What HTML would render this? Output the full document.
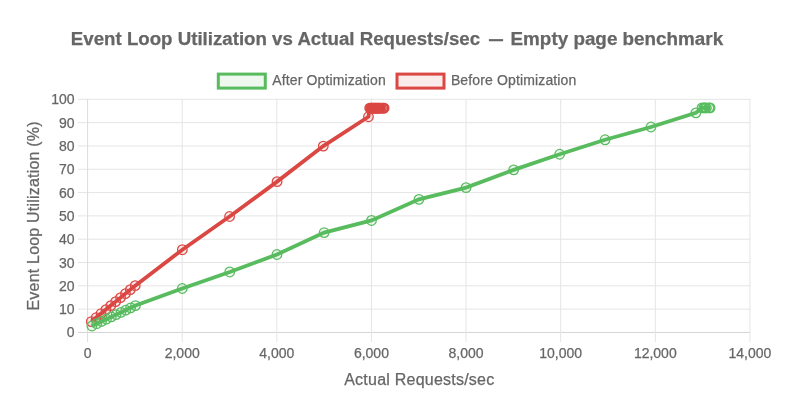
<!DOCTYPE html>
<html><head><meta charset="utf-8"><title>Event Loop Utilization vs Actual Requests/sec</title>
<style>html,body{margin:0;padding:0;background:#fff;width:800px;height:416px;overflow:hidden}svg{display:block;will-change:transform}</style>
</head><body>
<svg width="800" height="416" viewBox="0 0 800 416">
<rect width="800" height="416" fill="#fff"/>
<line x1="78" y1="332.45" x2="750.40" y2="332.45" stroke="#d4d4d4" stroke-width="1"/>
<line x1="78" y1="309.14" x2="750.40" y2="309.14" stroke="#e5e5e5" stroke-width="1"/>
<line x1="78" y1="285.83" x2="750.40" y2="285.83" stroke="#e5e5e5" stroke-width="1"/>
<line x1="78" y1="262.52" x2="750.40" y2="262.52" stroke="#e5e5e5" stroke-width="1"/>
<line x1="78" y1="239.21" x2="750.40" y2="239.21" stroke="#e5e5e5" stroke-width="1"/>
<line x1="78" y1="215.90" x2="750.40" y2="215.90" stroke="#e5e5e5" stroke-width="1"/>
<line x1="78" y1="192.59" x2="750.40" y2="192.59" stroke="#e5e5e5" stroke-width="1"/>
<line x1="78" y1="169.28" x2="750.40" y2="169.28" stroke="#e5e5e5" stroke-width="1"/>
<line x1="78" y1="145.97" x2="750.40" y2="145.97" stroke="#e5e5e5" stroke-width="1"/>
<line x1="78" y1="122.66" x2="750.40" y2="122.66" stroke="#e5e5e5" stroke-width="1"/>
<line x1="78" y1="99.35" x2="750.40" y2="99.35" stroke="#e5e5e5" stroke-width="1"/>
<line x1="87.60" y1="98.85" x2="87.60" y2="342" stroke="#dcdcdc" stroke-width="1"/>
<line x1="182.21" y1="98.85" x2="182.21" y2="342" stroke="#e5e5e5" stroke-width="1"/>
<line x1="276.83" y1="98.85" x2="276.83" y2="342" stroke="#e5e5e5" stroke-width="1"/>
<line x1="371.44" y1="98.85" x2="371.44" y2="342" stroke="#e5e5e5" stroke-width="1"/>
<line x1="466.06" y1="98.85" x2="466.06" y2="342" stroke="#e5e5e5" stroke-width="1"/>
<line x1="560.67" y1="98.85" x2="560.67" y2="342" stroke="#e5e5e5" stroke-width="1"/>
<line x1="655.29" y1="98.85" x2="655.29" y2="342" stroke="#e5e5e5" stroke-width="1"/>
<line x1="749.90" y1="98.85" x2="749.90" y2="342" stroke="#e5e5e5" stroke-width="1"/>
<polyline points="91.30,321.55 96.18,317.56 101.06,313.57 105.93,309.58 110.81,305.59 115.69,301.61 120.57,297.62 125.44,293.63 130.32,289.64 135.20,285.65 182.36,249.70 229.57,216.48 277.07,181.63 323.28,146.09 368.46,116.72 369.70,108.15 370.49,108.15 371.28,108.15 372.08,108.15 372.87,108.15 373.66,108.15 374.45,108.15 375.25,108.15 376.04,108.15 376.83,108.15 377.62,108.15 378.42,108.15 379.21,108.15 380.00,108.15 381.30,108.15 382.70,108.15 383.60,108.15 384.10,108.15" fill="none" stroke="#db4843" stroke-width="3.8" stroke-linejoin="miter"/>
<circle cx="91.30" cy="321.55" r="4.8" fill="rgba(219,72,67,0.1)" stroke="#db4843" stroke-width="1.25"/>
<circle cx="96.18" cy="317.56" r="4.8" fill="rgba(219,72,67,0.1)" stroke="#db4843" stroke-width="1.25"/>
<circle cx="101.06" cy="313.57" r="4.8" fill="rgba(219,72,67,0.1)" stroke="#db4843" stroke-width="1.25"/>
<circle cx="105.93" cy="309.58" r="4.8" fill="rgba(219,72,67,0.1)" stroke="#db4843" stroke-width="1.25"/>
<circle cx="110.81" cy="305.59" r="4.8" fill="rgba(219,72,67,0.1)" stroke="#db4843" stroke-width="1.25"/>
<circle cx="115.69" cy="301.61" r="4.8" fill="rgba(219,72,67,0.1)" stroke="#db4843" stroke-width="1.25"/>
<circle cx="120.57" cy="297.62" r="4.8" fill="rgba(219,72,67,0.1)" stroke="#db4843" stroke-width="1.25"/>
<circle cx="125.44" cy="293.63" r="4.8" fill="rgba(219,72,67,0.1)" stroke="#db4843" stroke-width="1.25"/>
<circle cx="130.32" cy="289.64" r="4.8" fill="rgba(219,72,67,0.1)" stroke="#db4843" stroke-width="1.25"/>
<circle cx="135.20" cy="285.65" r="4.8" fill="rgba(219,72,67,0.1)" stroke="#db4843" stroke-width="1.25"/>
<circle cx="182.36" cy="249.70" r="4.8" fill="rgba(219,72,67,0.1)" stroke="#db4843" stroke-width="1.25"/>
<circle cx="229.57" cy="216.48" r="4.8" fill="rgba(219,72,67,0.1)" stroke="#db4843" stroke-width="1.25"/>
<circle cx="277.07" cy="181.63" r="4.8" fill="rgba(219,72,67,0.1)" stroke="#db4843" stroke-width="1.25"/>
<circle cx="323.28" cy="146.09" r="4.8" fill="rgba(219,72,67,0.1)" stroke="#db4843" stroke-width="1.25"/>
<circle cx="368.46" cy="116.72" r="4.8" fill="rgba(219,72,67,0.1)" stroke="#db4843" stroke-width="1.25"/>
<circle cx="369.70" cy="108.15" r="4.8" fill="rgba(219,72,67,0.1)" stroke="#db4843" stroke-width="1.25"/>
<circle cx="370.49" cy="108.15" r="4.8" fill="rgba(219,72,67,0.1)" stroke="#db4843" stroke-width="1.25"/>
<circle cx="371.28" cy="108.15" r="4.8" fill="rgba(219,72,67,0.1)" stroke="#db4843" stroke-width="1.25"/>
<circle cx="372.08" cy="108.15" r="4.8" fill="rgba(219,72,67,0.1)" stroke="#db4843" stroke-width="1.25"/>
<circle cx="372.87" cy="108.15" r="4.8" fill="rgba(219,72,67,0.1)" stroke="#db4843" stroke-width="1.25"/>
<circle cx="373.66" cy="108.15" r="4.8" fill="rgba(219,72,67,0.1)" stroke="#db4843" stroke-width="1.25"/>
<circle cx="374.45" cy="108.15" r="4.8" fill="rgba(219,72,67,0.1)" stroke="#db4843" stroke-width="1.25"/>
<circle cx="375.25" cy="108.15" r="4.8" fill="rgba(219,72,67,0.1)" stroke="#db4843" stroke-width="1.25"/>
<circle cx="376.04" cy="108.15" r="4.8" fill="rgba(219,72,67,0.1)" stroke="#db4843" stroke-width="1.25"/>
<circle cx="376.83" cy="108.15" r="4.8" fill="rgba(219,72,67,0.1)" stroke="#db4843" stroke-width="1.25"/>
<circle cx="377.62" cy="108.15" r="4.8" fill="rgba(219,72,67,0.1)" stroke="#db4843" stroke-width="1.25"/>
<circle cx="378.42" cy="108.15" r="4.8" fill="rgba(219,72,67,0.1)" stroke="#db4843" stroke-width="1.25"/>
<circle cx="379.21" cy="108.15" r="4.8" fill="rgba(219,72,67,0.1)" stroke="#db4843" stroke-width="1.25"/>
<circle cx="380.00" cy="108.15" r="4.8" fill="rgba(219,72,67,0.1)" stroke="#db4843" stroke-width="1.25"/>
<circle cx="381.30" cy="108.15" r="4.8" fill="rgba(219,72,67,0.1)" stroke="#db4843" stroke-width="1.25"/>
<circle cx="382.70" cy="108.15" r="4.8" fill="rgba(219,72,67,0.1)" stroke="#db4843" stroke-width="1.25"/>
<circle cx="383.60" cy="108.15" r="4.8" fill="rgba(219,72,67,0.1)" stroke="#db4843" stroke-width="1.25"/>
<circle cx="384.10" cy="108.15" r="4.8" fill="rgba(219,72,67,0.1)" stroke="#db4843" stroke-width="1.25"/>
<polyline points="91.90,325.95 96.74,323.68 101.59,321.42 106.43,319.15 111.28,316.88 116.12,314.62 120.97,312.35 125.81,310.08 130.66,307.82 135.50,305.55 182.24,288.51 229.76,271.96 276.97,254.48 324.18,232.57 371.49,220.45 418.99,199.35 466.06,187.58 513.65,169.86 559.68,154.25 605.09,139.79 650.98,126.97 695.88,112.85 702.00,107.85 703.80,107.85 705.00,107.85 706.30,107.85 709.00,107.85 710.10,107.85" fill="none" stroke="#58bc5f" stroke-width="3.8" stroke-linejoin="miter"/>
<circle cx="91.90" cy="325.95" r="4.8" fill="rgba(88,188,95,0.1)" stroke="#58bc5f" stroke-width="1.25"/>
<circle cx="96.74" cy="323.68" r="4.8" fill="rgba(88,188,95,0.1)" stroke="#58bc5f" stroke-width="1.25"/>
<circle cx="101.59" cy="321.42" r="4.8" fill="rgba(88,188,95,0.1)" stroke="#58bc5f" stroke-width="1.25"/>
<circle cx="106.43" cy="319.15" r="4.8" fill="rgba(88,188,95,0.1)" stroke="#58bc5f" stroke-width="1.25"/>
<circle cx="111.28" cy="316.88" r="4.8" fill="rgba(88,188,95,0.1)" stroke="#58bc5f" stroke-width="1.25"/>
<circle cx="116.12" cy="314.62" r="4.8" fill="rgba(88,188,95,0.1)" stroke="#58bc5f" stroke-width="1.25"/>
<circle cx="120.97" cy="312.35" r="4.8" fill="rgba(88,188,95,0.1)" stroke="#58bc5f" stroke-width="1.25"/>
<circle cx="125.81" cy="310.08" r="4.8" fill="rgba(88,188,95,0.1)" stroke="#58bc5f" stroke-width="1.25"/>
<circle cx="130.66" cy="307.82" r="4.8" fill="rgba(88,188,95,0.1)" stroke="#58bc5f" stroke-width="1.25"/>
<circle cx="135.50" cy="305.55" r="4.8" fill="rgba(88,188,95,0.1)" stroke="#58bc5f" stroke-width="1.25"/>
<circle cx="182.24" cy="288.51" r="4.8" fill="rgba(88,188,95,0.1)" stroke="#58bc5f" stroke-width="1.25"/>
<circle cx="229.76" cy="271.96" r="4.8" fill="rgba(88,188,95,0.1)" stroke="#58bc5f" stroke-width="1.25"/>
<circle cx="276.97" cy="254.48" r="4.8" fill="rgba(88,188,95,0.1)" stroke="#58bc5f" stroke-width="1.25"/>
<circle cx="324.18" cy="232.57" r="4.8" fill="rgba(88,188,95,0.1)" stroke="#58bc5f" stroke-width="1.25"/>
<circle cx="371.49" cy="220.45" r="4.8" fill="rgba(88,188,95,0.1)" stroke="#58bc5f" stroke-width="1.25"/>
<circle cx="418.99" cy="199.35" r="4.8" fill="rgba(88,188,95,0.1)" stroke="#58bc5f" stroke-width="1.25"/>
<circle cx="466.06" cy="187.58" r="4.8" fill="rgba(88,188,95,0.1)" stroke="#58bc5f" stroke-width="1.25"/>
<circle cx="513.65" cy="169.86" r="4.8" fill="rgba(88,188,95,0.1)" stroke="#58bc5f" stroke-width="1.25"/>
<circle cx="559.68" cy="154.25" r="4.8" fill="rgba(88,188,95,0.1)" stroke="#58bc5f" stroke-width="1.25"/>
<circle cx="605.09" cy="139.79" r="4.8" fill="rgba(88,188,95,0.1)" stroke="#58bc5f" stroke-width="1.25"/>
<circle cx="650.98" cy="126.97" r="4.8" fill="rgba(88,188,95,0.1)" stroke="#58bc5f" stroke-width="1.25"/>
<circle cx="695.88" cy="112.85" r="4.8" fill="rgba(88,188,95,0.1)" stroke="#58bc5f" stroke-width="1.25"/>
<circle cx="702.00" cy="107.85" r="4.8" fill="rgba(88,188,95,0.1)" stroke="#58bc5f" stroke-width="1.25"/>
<circle cx="703.80" cy="107.85" r="4.8" fill="rgba(88,188,95,0.1)" stroke="#58bc5f" stroke-width="1.25"/>
<circle cx="705.00" cy="107.85" r="4.8" fill="rgba(88,188,95,0.1)" stroke="#58bc5f" stroke-width="1.25"/>
<circle cx="706.30" cy="107.85" r="4.8" fill="rgba(88,188,95,0.1)" stroke="#58bc5f" stroke-width="1.25"/>
<circle cx="709.00" cy="107.85" r="4.8" fill="rgba(88,188,95,0.1)" stroke="#58bc5f" stroke-width="1.25"/>
<circle cx="710.10" cy="107.85" r="4.8" fill="rgba(88,188,95,0.1)" stroke="#58bc5f" stroke-width="1.25"/>
<text y="44.7" font-family="'Liberation Sans', Arial, sans-serif" stroke="#666" stroke-width="0.25" font-size="18" font-weight="bold" fill="#666"><tspan x="70.86" textLength="409.2" lengthAdjust="spacingAndGlyphs">Event Loop Utilization vs Actual Requests/sec</tspan> <tspan x="489.1" y="45.3" textLength="14" lengthAdjust="spacingAndGlyphs">—</tspan> <tspan x="510.56" y="44.7" textLength="212.6" lengthAdjust="spacingAndGlyphs">Empty page benchmark</tspan></text>
<rect x="218.3" y="74.1" width="47" height="14" fill="rgba(88,188,95,0.1)" stroke="#58bc5f" stroke-width="3"/>
<text x="272.3" y="85.4" font-family="'Liberation Sans', Arial, sans-serif" stroke="#666" stroke-width="0.25" font-size="14" fill="#666" textLength="113.4" lengthAdjust="spacing">After Optimization</text>
<rect x="397" y="74.1" width="47" height="14" fill="rgba(219,72,67,0.1)" stroke="#db4843" stroke-width="3"/>
<text x="450.9" y="85.4" font-family="'Liberation Sans', Arial, sans-serif" stroke="#666" stroke-width="0.25" font-size="14" fill="#666" textLength="125.4" lengthAdjust="spacing">Before Optimization</text>
<text x="74.5" y="337.45" font-family="'Liberation Sans', Arial, sans-serif" stroke="#666" stroke-width="0.25" font-size="14" fill="#666" text-anchor="end">0</text>
<text x="74.5" y="314.14" font-family="'Liberation Sans', Arial, sans-serif" stroke="#666" stroke-width="0.25" font-size="14" fill="#666" text-anchor="end">10</text>
<text x="74.5" y="290.83" font-family="'Liberation Sans', Arial, sans-serif" stroke="#666" stroke-width="0.25" font-size="14" fill="#666" text-anchor="end">20</text>
<text x="74.5" y="267.52" font-family="'Liberation Sans', Arial, sans-serif" stroke="#666" stroke-width="0.25" font-size="14" fill="#666" text-anchor="end">30</text>
<text x="74.5" y="244.21" font-family="'Liberation Sans', Arial, sans-serif" stroke="#666" stroke-width="0.25" font-size="14" fill="#666" text-anchor="end">40</text>
<text x="74.5" y="220.90" font-family="'Liberation Sans', Arial, sans-serif" stroke="#666" stroke-width="0.25" font-size="14" fill="#666" text-anchor="end">50</text>
<text x="74.5" y="197.59" font-family="'Liberation Sans', Arial, sans-serif" stroke="#666" stroke-width="0.25" font-size="14" fill="#666" text-anchor="end">60</text>
<text x="74.5" y="174.28" font-family="'Liberation Sans', Arial, sans-serif" stroke="#666" stroke-width="0.25" font-size="14" fill="#666" text-anchor="end">70</text>
<text x="74.5" y="150.97" font-family="'Liberation Sans', Arial, sans-serif" stroke="#666" stroke-width="0.25" font-size="14" fill="#666" text-anchor="end">80</text>
<text x="74.5" y="127.66" font-family="'Liberation Sans', Arial, sans-serif" stroke="#666" stroke-width="0.25" font-size="14" fill="#666" text-anchor="end">90</text>
<text x="74.5" y="104.35" font-family="'Liberation Sans', Arial, sans-serif" stroke="#666" stroke-width="0.25" font-size="14" fill="#666" text-anchor="end">100</text>
<text x="87.60" y="358.3" font-family="'Liberation Sans', Arial, sans-serif" stroke="#666" stroke-width="0.25" font-size="14" fill="#666" text-anchor="middle">0</text>
<text x="182.21" y="358.3" font-family="'Liberation Sans', Arial, sans-serif" stroke="#666" stroke-width="0.25" font-size="14" fill="#666" text-anchor="middle">2,000</text>
<text x="276.83" y="358.3" font-family="'Liberation Sans', Arial, sans-serif" stroke="#666" stroke-width="0.25" font-size="14" fill="#666" text-anchor="middle">4,000</text>
<text x="371.44" y="358.3" font-family="'Liberation Sans', Arial, sans-serif" stroke="#666" stroke-width="0.25" font-size="14" fill="#666" text-anchor="middle">6,000</text>
<text x="466.06" y="358.3" font-family="'Liberation Sans', Arial, sans-serif" stroke="#666" stroke-width="0.25" font-size="14" fill="#666" text-anchor="middle">8,000</text>
<text x="560.67" y="358.3" font-family="'Liberation Sans', Arial, sans-serif" stroke="#666" stroke-width="0.25" font-size="14" fill="#666" text-anchor="middle">10,000</text>
<text x="655.29" y="358.3" font-family="'Liberation Sans', Arial, sans-serif" stroke="#666" stroke-width="0.25" font-size="14" fill="#666" text-anchor="middle">12,000</text>
<text x="749.90" y="358.3" font-family="'Liberation Sans', Arial, sans-serif" stroke="#666" stroke-width="0.25" font-size="14" fill="#666" text-anchor="middle">14,000</text>
<text x="419.2" y="384.75" font-family="'Liberation Sans', Arial, sans-serif" stroke="#666" stroke-width="0.25" font-size="16" fill="#666" text-anchor="middle" textLength="150" lengthAdjust="spacing">Actual Requests/sec</text>
<text transform="translate(38.8,216) rotate(-90)" x="0" y="0" font-family="'Liberation Sans', Arial, sans-serif" stroke="#666" stroke-width="0.25" font-size="16" fill="#666" text-anchor="middle" textLength="189" lengthAdjust="spacing">Event Loop Utilization (%)</text>
</svg>
</body></html>
